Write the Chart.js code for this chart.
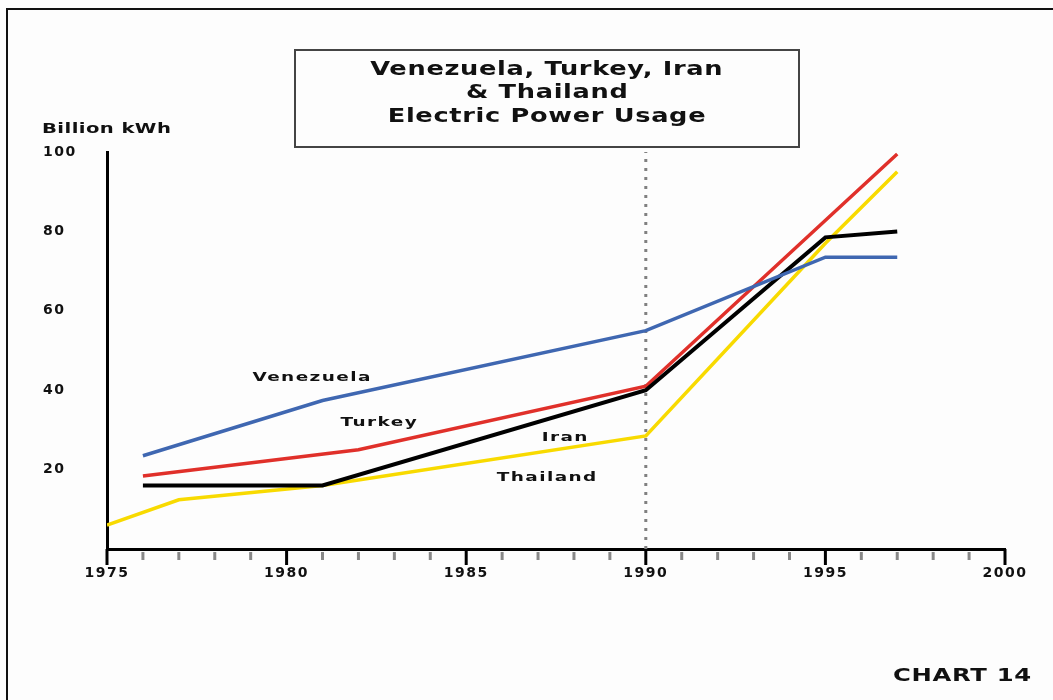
<!DOCTYPE html>
<html>
<head>
<meta charset="utf-8">
<script src="https://cdn.jsdelivr.net/npm/chart.js@4.4.1/dist/chart.umd.min.js"></script>
<style>
  html, body { margin: 0; padding: 0; background: #fdfdfd; }
  #wrap { position: relative; width: 1053px; height: 700px; overflow: hidden;
          font-family: "DejaVu Sans", sans-serif; font-weight: bold; color: #111; }
  #frame { position: absolute; left: 6px; top: 8px; right: -10px; bottom: -10px;
           border-left: 2px solid #111; border-top: 2px solid #111; }
  canvas { position: absolute; left: 0; top: 0; }
  .txt { position: absolute; white-space: nowrap; transform-origin: left top; }
  #title { position: absolute; left: 294px; top: 49px; width: 502px; height: 89px;
           border: 2px solid #444; padding-top: 6px; box-sizing: content-box; }
  #title div { text-align: center; font-size: 19px; line-height: 23.3px; }
  #title span { display: inline-block; letter-spacing: 0.5px; transform: scaleX(1.35); }
  #unit { left: 42px; top: 121px; font-size: 14px; line-height: 14px; letter-spacing: 0.3px; transform: scaleX(1.4); }
  #chartno { left: 893px; top: 666px; font-size: 18px; line-height: 18px; letter-spacing: 0.5px; transform: scaleX(1.35); }
</style>
</head>
<body>
<div id="wrap">
  <div id="frame"></div>
  <canvas id="chart" width="1053" height="700"></canvas>
  <div id="title">
    <div><span>Venezuela, Turkey, Iran</span></div>
    <div><span>&amp; Thailand</span></div>
    <div><span>Electric Power Usage</span></div>
  </div>
  <div class="txt" id="unit">Billion kWh</div>
  <div class="txt" id="chartno">CHART 14</div>
</div>
<script>
// Electric power usage, billion kWh
const venezuelaYears = [1976, 1981, 1990, 1995, 1997];
const venezuelaKwh   = [23.5, 37.4, 55, 73.5, 73.5];
const turkeyYears    = [1976, 1982, 1990, 1997];
const turkeyKwh      = [18.4, 25, 41, 99.5];
const iranYears      = [1976, 1981, 1990, 1995, 1997];
const iranKwh        = [16, 16, 40, 78.5, 80];
const thailandYears  = [1975, 1977, 1981, 1990, 1995, 1997];
const thailandKwh    = [6, 12.4, 16, 28.5, 77, 95];
const markerYear = 1990;

// in-chart series names and where they sit (year, kWh at text baseline)
const seriesNames = ["Venezuela", "Turkey", "Iran", "Thailand"];
const labelYears  = [1979.05, 1981.5, 1987.1, 1985.85];
const labelKwh    = [42.2, 31.1, 27.3, 17.2];

const pts = (xs, ys) => xs.map((x, i) => ({ x, y: ys[i] }));
const tickFont = { family: "DejaVu Sans", size: 14, weight: "bold" };

// per-year tick marks under the x axis, long black every 5 years
const yearTicks = {
  id: "yearTicks",
  beforeDraw(chart) { chart.ctx.letterSpacing = "1.5px"; },
  beforeDatasetsDraw(chart) { chart.ctx.letterSpacing = "0px"; },
  afterDraw(chart) {
    const { ctx, chartArea, scales: { x } } = chart;
    ctx.save();
    ctx.lineWidth = 3;
    for (let yr = x.min; yr <= x.max; yr++) {
      const px = x.getPixelForValue(yr);
      const major = yr % 5 === 0;
      ctx.strokeStyle = major ? "#000" : "#888";
      ctx.beginPath();
      ctx.moveTo(px, chartArea.bottom + (major ? 0 : 3));
      ctx.lineTo(px, chartArea.bottom + (major ? 16 : 11));
      ctx.stroke();
    }
    ctx.restore();
  },
};

const seriesLabels = {
  id: "seriesLabels",
  afterDatasetsDraw(chart) {
    const { ctx, scales: { x, y } } = chart;
    ctx.save();
    ctx.font = 'bold 13px "DejaVu Sans"';
    ctx.letterSpacing = "1px";
    ctx.fillStyle = "#111";
    ctx.textAlign = "left";
    ctx.textBaseline = "alphabetic";
    seriesNames.forEach((name, i) => {
      ctx.save();
      ctx.translate(x.getPixelForValue(labelYears[i]), y.getPixelForValue(labelKwh[i]));
      ctx.scale(1.42, 1);
      ctx.fillText(name, 0, 0);
      ctx.restore();
    });
    ctx.restore();
  },
};

new Chart(document.getElementById("chart"), {
  type: "line",
  data: {
    datasets: [
      { label: "Venezuela", data: pts(venezuelaYears, venezuelaKwh), borderColor: "#3f67b1", borderWidth: 3.5, order: 0 },
      { label: "Iran", data: pts(iranYears, iranKwh), borderColor: "#000000", borderWidth: 4, order: 1 },
      { label: "Turkey", data: pts(turkeyYears, turkeyKwh), borderColor: "#e0302a", borderWidth: 3.5, order: 2 },
      { label: "Thailand", data: pts(thailandYears, thailandKwh), borderColor: "#f8da00", borderWidth: 3.5, order: 3 },
      { label: "1990", data: [{ x: markerYear, y: 0 }, { x: markerYear, y: 100 }],
        borderColor: "#808080", borderWidth: 3, borderDash: [3, 6], order: 4 },
    ],
  },
  options: {
    responsive: false,
    animation: false,
    layout: { padding: { top: 152, left: 43, right: 48, bottom: 0 } },
    plugins: { legend: { display: false }, tooltip: { enabled: false } },
    elements: { point: { radius: 0 }, line: { tension: 0, borderCapStyle: "butt" } },
    scales: {
      x: {
        type: "linear", min: 1975, max: 2000,
        afterFit: (s) => { s.height = 151; },
        ticks: { stepSize: 5, callback: (v) => String(v), font: tickFont, color: "#111", padding: 2, maxRotation: 0 },
        grid: { drawOnChartArea: false, tickLength: 14, tickColor: "rgba(0,0,0,0)" },
        border: { color: "#000", width: 3 },
      },
      y: {
        min: 0, max: 100,
        afterFit: (s) => { s.width = 64; },
        ticks: { stepSize: 20, callback: (v) => (v === 0 ? "" : v), crossAlign: "far", font: tickFont, color: "#111" },
        grid: { drawOnChartArea: false, drawTicks: false },
        border: { color: "#000", width: 3 },
      },
    },
  },
  plugins: [yearTicks, seriesLabels],
});
</script>
</body>
</html>
